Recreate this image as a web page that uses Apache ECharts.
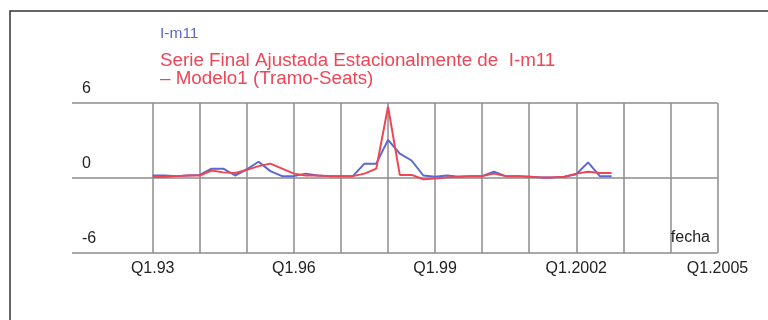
<!DOCTYPE html>
<html>
<head>
<meta charset="utf-8">
<script src="https://cdn.jsdelivr.net/npm/echarts@6/dist/echarts.min.js"></script>
<style>html,body{margin:0;padding:0;background:#fff;}#c{width:768px;height:320px;}</style>
</head>
<body>
<div id="c"></div>
<script>
// Quarterly series starting Q1.1993
var startYear = 1993;
var seriesNames = ['I-m11', 'Serie Final Ajustada Estacionalmente de  I-m11\n\u2013 Modelo1 (Tramo-Seats)'];
var original = [0.2,0.2,0.15,0.2,0.25,0.75,0.75,0.2,0.7,1.3,0.55,0.15,0.15,0.35,0.2,0.15,0.15,0.15,1.15,1.15,3.05,1.95,1.4,0.2,0.1,0.2,0.1,0.15,0.15,0.5,0.15,0.15,0.1,0.05,0.05,0.1,0.3,1.25,0.15,0.15];
var adjusted = [0.08,0.08,0.15,0.2,0.2,0.6,0.45,0.4,0.65,0.95,1.15,0.75,0.35,0.2,0.2,0.15,0.15,0.15,0.35,0.75,5.7,0.25,0.25,-0.1,-0.05,0.05,0.1,0.15,0.15,0.35,0.15,0.15,0.1,0.05,0.05,0.1,0.35,0.5,0.4,0.4];
var tickYears = [1993, 1996, 1999, 2002, 2005];
var tickLabels = ['Q1.93', 'Q1.96', 'Q1.99', 'Q1.2002', 'Q1.2005'];
var yTicks = [-6, 0, 6];
var axisName = 'fecha';

function toPairs(arr) {
  return arr.map(function (v, i) { return [startYear + i / 4, v]; });
}

var FONT = 'Liberation Sans';
var blue = '#5b68cf';
var red = '#ee4657';
var gridCol = '#8c8c8c';

var chart = echarts.init(document.getElementById('c'), null, {renderer: 'canvas'});
chart.setOption({
  animation: false,
  backgroundColor: '#fff',
  textStyle: {fontFamily: FONT},
  graphic: [{
    type: 'rect', silent: true, z: -1,
    shape: {x: 10, y: 11, width: 820, height: 400},
    style: {fill: 'none', stroke: '#333', lineWidth: 1.5}
  }],
  title: {
    text: axisName, right: 53, top: 225,
    textStyle: {fontFamily: FONT, fontSize: 16, fontWeight: 'normal', color: '#222'}
  },
  legend: {
    orient: 'vertical', left: 155, top: 25, padding: 0, itemWidth: 0, itemHeight: 0, itemGap: 8,
    icon: 'none', selectedMode: false,
    data: [
      {name: seriesNames[0], textStyle: {color: blue, fontSize: 15.5, lineHeight: 18}},
      {name: seriesNames[1], textStyle: {color: red, fontSize: 18.8, lineHeight: 18.5}}
    ],
    textStyle: {fontFamily: FONT}
  },
  grid: [
    {left: 72, right: 50.5, top: 103, bottom: 67},
    {left: 152.7, right: 50.5, top: 103, bottom: 67}
  ],
  xAxis: [
    {gridIndex: 0, type: 'value', min: 0, max: 1, show: false},
    {
      gridIndex: 1, type: 'value', min: tickYears[0], max: tickYears[tickYears.length - 1], interval: 1,
      axisLine: {show: false}, axisTick: {show: false},
      splitLine: {show: true, lineStyle: {color: gridCol, width: 1.5}},
      axisLabel: {
        show: true, showMinLabel: true, showMaxLabel: true, margin: 8,
        fontFamily: FONT, fontSize: 16, color: '#222',
        formatter: function (v) {
          var k = tickYears.indexOf(Math.round(v));
          return k >= 0 ? tickLabels[k] : '';
        }
      }
    }
  ],
  yAxis: [
    {
      gridIndex: 0, type: 'value', min: yTicks[0], max: yTicks[2], interval: 6,
      axisLine: {show: false}, axisTick: {show: false},
      splitLine: {show: true, lineStyle: {color: gridCol, width: 1.5}},
      axisLabel: {
        inside: true, margin: 10, fontFamily: FONT, fontSize: 16, color: '#222',
        verticalAlign: 'bottom', padding: [0, 0, 6, 0]
      }
    },
    {gridIndex: 1, type: 'value', min: yTicks[0], max: yTicks[2], show: false}
  ],
  series: [
    {
      name: seriesNames[0], type: 'line', xAxisIndex: 1, yAxisIndex: 1,
      data: toPairs(original), symbol: 'none', z: 3,
      lineStyle: {color: blue, width: 2}, itemStyle: {color: blue}
    },
    {
      name: seriesNames[1], type: 'line', xAxisIndex: 1, yAxisIndex: 1,
      data: toPairs(adjusted), symbol: 'none', z: 4,
      lineStyle: {color: red, width: 2}, itemStyle: {color: red}
    }
  ]
});
</script>
</body>
</html>
